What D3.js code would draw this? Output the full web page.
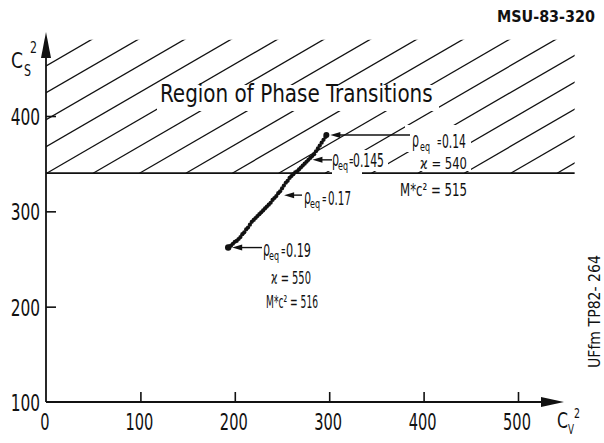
<!DOCTYPE html>
<html><head><meta charset="utf-8">
<script src="https://cdn.jsdelivr.net/npm/d3@7"></script>
<style>
html,body{margin:0;padding:0;background:#fff;}
svg{display:block;font-family:"DejaVu Sans Condensed","Liberation Sans Narrow","DejaVu Sans",sans-serif;}
</style></head><body>
<svg id="chart" width="604" height="443"></svg>
<script>
// Sound velocities along the equilibrium line (c_V^2, c_S^2)
const cv2 = [193,194,196,198,200,202,204,206,208,210,212,214,216,218,220,222,224,226,228,230,232,234,236,238,240,242,244,246,248,250,252,254,256,258,260,262,264,266,268,270,272,274,276,278,280,282,284,286,288,290,292,294,296,297];
const cs2 = [262,263,264,266,268,269,271,273,276,278,281,283,286,289,291,293,295,297,299,301,303,305,307,309,312,314,316,319,321,324,327,330,332,335,337,339,341,342,344,346,348,350,352,354,356,358,360,363,366,369,372,375,378,380];

const xTicks = [0,100,200,300,400,500];
const yTicks = [100,200,300,400];

// Phase-transition region: c_S^2 above the boundary
const phaseBoundary = 340;
const regionTop = 480;
const regionRight = 560;

// Labelled points on the curve
const annRho = ["0.14","0.145","0.17","0.19"];
const annCv2 = [297,278,248,193];
const annCs2 = [380,354,317,262];

const svg = d3.select("#chart");
const x = d3.scaleLinear().domain([0,500]).range([46,518]);
const y = d3.scaleLinear().domain([100,400]).range([402,116]);
const ink = "#111";

// helper: text squeezed horizontally to a given width (condensed lettering)
function fitText(g, px, py, size, s, width, anchor, extra) {
  const t = g.append("text").attr("font-size",size).attr("fill",ink)
    .attr("text-anchor",anchor || "start").text(s);
  if (extra) extra(t);
  const w = t.node().getComputedTextLength();
  t.attr("transform",`translate(${px},${py}) scale(${(width/w).toFixed(3)},1)`);
  return t;
}

// ---- hatched region ----
const rx0 = x(0), rx1 = x(regionRight), ry0 = y(regionTop), ry1 = y(phaseBoundary);
svg.append("clipPath").attr("id","hatchClip")
  .append("rect").attr("x",rx0).attr("y",ry0).attr("width",rx1-rx0).attr("height",ry1-ry0);
const hatch = svg.append("g").attr("clip-path","url(#hatchClip)")
  .attr("stroke",ink).attr("stroke-width",1.3);
const slope = 0.58, step = 46.4;
for (let k = -4; k < 14; k++) {
  const bx = rx0 + 0.7 + k*step;
  hatch.append("line").attr("x1",bx).attr("y1",ry1).attr("x2",bx+260).attr("y2",ry1-260*slope);
}

// knock-outs behind text inside the hatched area
const knock = [[157,85,282,26],[405,125,66,27],[328,150,60,21],[415,152,56,19]];
svg.append("g").selectAll("rect").data(knock).join("rect")
  .attr("x",d=>d[0]).attr("y",d=>d[1]).attr("width",d=>d[2]).attr("height",d=>d[3]).attr("fill","#fff");

// boundary line
svg.append("line").attr("x1",x(0)).attr("x2",rx1).attr("y1",ry1).attr("y2",ry1)
  .attr("stroke",ink).attr("stroke-width",1.7);
svg.append("rect").attr("x",332).attr("y",ry1-3).attr("width",30).attr("height",6).attr("fill","#fff");

fitText(svg,160,102,25,"Region of Phase Transitions",273);

// ---- axes ----
const axes = svg.append("g").attr("stroke",ink).attr("stroke-width",1.8).attr("fill","none");
axes.append("line").attr("x1",x(0)).attr("x2",541).attr("y1",y(100)).attr("y2",y(100));
axes.append("line").attr("x1",x(0)).attr("x2",x(0)).attr("y1",y(100)).attr("y2",57);
svg.append("path").attr("d",`M541,397 L564,402 L541,407 Z`).attr("fill",ink);
svg.append("path").attr("d",`M41,58 L46,32 L51,58 Z`).attr("fill",ink);

const xAxis = svg.append("g").attr("transform",`translate(0,${y(100)})`)
  .call(d3.axisBottom(x).tickValues(xTicks.filter(v=>v>0)).tickSize(-10).tickFormat(""));
xAxis.select(".domain").remove();
xAxis.selectAll(".tick line").attr("stroke",ink).attr("stroke-width",1.6);
const yAxis = svg.append("g").attr("transform",`translate(${x(0)},0)`)
  .call(d3.axisLeft(y).tickValues(yTicks.filter(v=>v>100)).tickSize(-10).tickFormat(""));
yAxis.select(".domain").remove();
yAxis.selectAll(".tick line").attr("stroke",ink).attr("stroke-width",1.6);

const tickLab = svg.append("g");
xTicks.forEach(d=>fitText(tickLab, x(d)-1, 430, 23, String(d), String(d).length*9.3, "middle"));
yTicks.forEach(d=>fitText(tickLab, 40, y(d)+9, 23, String(d), String(d).length*9.8, "end"));

// axis titles: C_S^2 and C_V^2
fitText(svg,11,68,22,"C",12);
fitText(svg,24,76,15,"S",7);
fitText(svg,30,53,15,"2",7);
fitText(svg,557,428,21,"C",11);
fitText(svg,568,434,14,"V",6);
fitText(svg,574,418,14,"2",6);

// ---- data points ----
svg.append("g").selectAll("circle").data(cv2.map((v,i)=>[v,cs2[i]])).join("circle")
  .attr("cx",d=>x(d[0])).attr("cy",d=>y(d[1])).attr("r",2.1).attr("fill",ink);
svg.append("circle").attr("cx",x(cv2[0])).attr("cy",y(cs2[0])).attr("r",3.2).attr("fill",ink);
svg.append("circle").attr("cx",x(cv2[cv2.length-1])).attr("cy",y(cs2[cs2.length-1])).attr("r",3).attr("fill",ink);

// ---- annotations ----
const arrowEnd = [410,332,302,262];
const labelX  = [412,332,304,263];
const labelDy = [13,7,10,9];
const eqOff   = [8,6,6,6];
const eqlOff  = [25,17,18,18];
const valOff  = [30,21,24,23];
const valW    = [24,31,23,25];
const ann = svg.append("g");
annRho.forEach((r,i)=>{
  const tx = x(annCv2[i]) + 4, ty = y(annCs2[i]);
  ann.append("line").attr("x1",tx+6).attr("x2",arrowEnd[i]).attr("y1",ty).attr("y2",ty)
    .attr("stroke",ink).attr("stroke-width",1.4);
  ann.append("path").attr("d",`M${tx},${ty} L${tx+10},${ty-3} L${tx+10},${ty+3} Z`).attr("fill",ink);
  const lx = labelX[i], by = ty + labelDy[i];
  fitText(ann,lx,by-1,22,"ρ",7);
  fitText(ann,lx+eqOff[i],by+3,12,"eq",10);
  fitText(ann,lx+eqlOff[i],by-1,14,"=",4.5);
  fitText(ann,lx+valOff[i],by,20,r,valW[i]);
});
const extra = [
  {x:420,y:169,s:16,t:"ϰ = 540",w:47},
  {x:400,y:196,s:17,t:"M*c² = 515",w:67},
  {x:271,y:284,s:17,t:"ϰ = 550",w:40},
  {x:266,y:308,s:17,t:"M*c² = 516",w:52}
];
extra.forEach(d=>fitText(ann,d.x,d.y,d.s,d.t,d.w));

// report identifiers
fitText(svg,497,22,15,"MSU-83-320",98,"start",t=>t.attr("font-weight","bold").attr("font-family","DejaVu Sans, sans-serif"));
const side = svg.append("g").attr("transform","translate(600,368) rotate(-90)");
fitText(side,0,0,15,"UFfm TP82- 264",113);
</script></body></html>
